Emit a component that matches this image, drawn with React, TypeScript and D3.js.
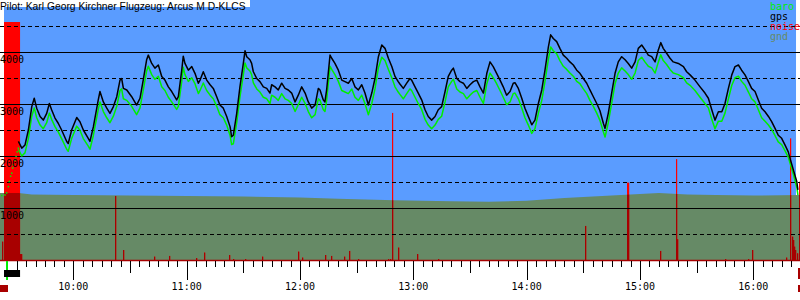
import React from 'react';
import * as d3 from 'd3';

const W = 800;
const H = 300;

const title = 'Pilot: Karl Georg Kirchner Flugzeug: Arcus M D-KLCS';

// minutes after 09:00
const fixMinutes = [
  30.9, 32.7, 34.4, 36.2, 38.0, 39.3, 40.6, 42.4, 44.1, 45.9, 47.3, 48.5, 50.3, 52.0, 53.8, 56.5, 57.3, 59.1, 61.8, 63.5,
  65.3, 67.9, 68.8, 70.6, 73.2, 74.1, 75.9, 77.7, 79.4, 81.2, 83.0, 84.7, 85.6, 86.5, 88.3, 90.9, 93.5, 95.3, 97.0, 98.8,
  99.7, 101.5, 103.2, 105.0, 106.8, 108.5, 110.3, 112.1, 114.7, 115.6, 117.4, 118.2, 119.1, 120.9, 122.7, 124.4, 126.2, 127.1, 128.8, 130.6,
  132.4, 134.1, 135.9, 137.6, 139.4, 141.2, 143.0, 143.8, 144.7, 146.5, 148.2, 150.0, 150.9, 151.8, 153.5, 154.4, 155.3, 157.1, 158.8, 160.6,
  162.4, 164.1, 165.0, 166.8, 168.5, 170.3, 172.1, 173.8, 175.6, 177.4, 179.1, 180.9, 182.7, 184.4, 186.2, 188.0, 189.7, 190.6, 192.3, 193.2,
  194.1, 195.9, 196.8, 198.5, 200.3, 202.1, 203.8, 205.6, 207.4, 209.1, 210.9, 212.7, 214.4, 216.2, 218.0, 219.7, 221.5, 223.3, 225.0, 226.8,
  228.6, 230.3, 232.0, 232.9, 234.7, 236.5, 238.2, 239.1, 240.9, 242.6, 244.4, 246.2, 247.9, 249.7, 251.5, 253.2, 255.0, 256.8, 258.5, 260.3,
  261.2, 263.0, 264.7, 266.5, 268.3, 270.0, 271.8, 273.6, 275.3, 277.1, 278.9, 280.6, 282.3, 284.1, 285.9, 287.6, 289.4, 291.2, 292.9, 293.8,
  295.6, 297.4, 299.1, 300.9, 302.7, 304.4, 306.2, 308.0, 309.7, 311.5, 312.7, 314.1, 315.9, 317.6, 319.4, 321.2, 322.9, 324.7, 326.5, 328.2,
  330.0, 331.8, 333.5, 335.3, 337.1, 338.8, 340.6, 341.5, 343.2, 345.0, 346.8, 348.5, 350.3, 352.1, 353.8, 355.6, 357.4, 359.1, 360.9, 362.7,
  364.4, 366.2, 368.0, 369.7, 371.0, 372.3, 374.1, 375.9, 377.6, 380.3, 383.0, 384.7, 386.5, 389.1, 391.8, 394.4, 396.2, 398.0, 399.7, 401.5,
  403.3, 405.0, 406.8, 408.6, 410.3, 412.1, 413.8, 415.6, 417.4, 419.1, 420.9, 422.6, 424.4, 426.2, 428.0, 429.7, 431.5, 433.2, 435.0, 436.8,
  438.5, 439.4, 441.2, 443.0, 443.6,
];

const gpsAlt = [
  2280, 2150, 2210, 2500, 2950, 3110, 2920, 2760, 2690, 2820, 3010, 2890, 2730, 2630, 2500, 2280, 2240, 2500, 2740, 2660,
  2500, 2340, 2280, 2560, 3080, 3240, 3040, 2920, 2820, 2950, 3140, 3460, 3490, 3300, 3270, 3140, 2980, 3110, 3460, 3850,
  3940, 3780, 3690, 3750, 3530, 3460, 3330, 3240, 3080, 3140, 3650, 3920, 3780, 3650, 3720, 3590, 3400, 3460, 3620, 3460,
  3370, 3300, 3140, 2980, 2920, 2760, 2560, 2370, 2400, 2820, 3330, 3780, 4025, 3910, 3850, 3780, 3620, 3490, 3430, 3330,
  3300, 3210, 3370, 3330, 3270, 3400, 3300, 3270, 3210, 3040, 3170, 3330, 3210, 3040, 2920, 2980, 3300, 3270, 3080, 3040,
  3270, 3940, 3880, 3780, 3650, 3460, 3430, 3400, 3490, 3330, 3270, 3370, 3210, 2980, 3210, 3490, 3910, 4135, 4070, 3880,
  3720, 3530, 3430, 3385, 3300, 3400, 3490, 3460, 3330, 3210, 3080, 2890, 2760, 2690, 2760, 2890, 2950, 3240, 3530, 3650,
  3690, 3490, 3430, 3400, 3300, 3370, 3430, 3460, 3330, 3210, 3590, 3810, 3720, 3590, 3460, 3330, 3170, 3240, 3400, 3410,
  3300, 3110, 2920, 2760, 2600, 2690, 3010, 3270, 3650, 4100, 4330, 4260, 4200, 4070, 3940, 3880, 3810, 3750, 3650, 3590,
  3490, 3400, 3270, 3140, 3010, 2870, 2630, 2530, 2820, 3210, 3590, 3810, 3910, 3850, 3780, 3690, 3810, 4070, 4135, 4040,
  3940, 3910, 3810, 4040, 4180, 4070, 3975, 3880, 3810, 3780, 3720, 3620, 3560, 3460, 3330, 3210, 3110, 2890, 2690, 2850,
  2850, 3010, 3300, 3560, 3720, 3750, 3650, 3560, 3430, 3300, 3240, 3080, 2920, 2850, 2760, 2660, 2530, 2400, 2340, 2210,
  2080, 1960, 1730, 1510, 1350,
];

const baroAlt = [
  2130, 2000, 2060, 2335, 2765, 2925, 2735, 2595, 2525, 2640, 2825, 2705, 2565, 2465, 2335, 2130, 2090, 2335, 2575, 2495,
  2335, 2190, 2130, 2395, 2895, 3040, 2855, 2735, 2640, 2765, 2955, 3260, 3290, 3100, 3070, 2955, 2795, 2925, 3260, 3635,
  3725, 3565, 3475, 3535, 3330, 3260, 3130, 3040, 2895, 2955, 3435, 3705, 3565, 3435, 3505, 3390, 3200, 3260, 3405, 3260,
  3170, 3100, 2955, 2795, 2735, 2595, 2395, 2220, 2235, 2640, 3130, 3565, 3790, 3695, 3635, 3565, 3405, 3290, 3230, 3130,
  3100, 3010, 3170, 3130, 3070, 3200, 3100, 3070, 3010, 2855, 2985, 3130, 3010, 2855, 2735, 2795, 3100, 3070, 2895, 2855,
  3070, 3725, 3665, 3565, 3435, 3260, 3230, 3200, 3290, 3130, 3070, 3170, 3010, 2795, 3010, 3290, 3695, 3900, 3835, 3665,
  3505, 3330, 3230, 3185, 3100, 3200, 3290, 3260, 3130, 3010, 2895, 2705, 2595, 2525, 2595, 2705, 2765, 3040, 3330, 3435,
  3475, 3290, 3230, 3200, 3100, 3170, 3230, 3260, 3130, 3010, 3390, 3595, 3505, 3390, 3260, 3130, 2985, 3040, 3200, 3210,
  3100, 2925, 2735, 2595, 2435, 2525, 2825, 3070, 3435, 3865, 4095, 4025, 3965, 3835, 3725, 3665, 3595, 3535, 3435, 3390,
  3290, 3200, 3070, 2955, 2825, 2685, 2465, 2365, 2640, 3010, 3390, 3595, 3695, 3635, 3565, 3475, 3595, 3835, 3900, 3805,
  3725, 3695, 3595, 3805, 3945, 3835, 3760, 3665, 3595, 3565, 3505, 3405, 3360, 3260, 3130, 3010, 2925, 2705, 2525, 2670,
  2670, 2825, 3100, 3360, 3505, 3535, 3435, 3360, 3230, 3100, 3040, 2895, 2735, 2670, 2595, 2510, 2390, 2270, 2220, 2100,
  1980, 1870, 1650, 1400, 1250,
];

// sparse baro fixes during the engine climb
const climbMinutes = [22.1, 23.8, 24.7, 25.6, 26.1, 26.8, 27.4, 27.9, 28.2, 29.1, 29.7, 30.3, 30.9];
const climbBaro = [1240, 1250, 1290, 1410, 1510, 1610, 1670, 1770, 1830, 1920, 1990, 2080, 2150];

// ground elevation
const gndMinutes = [21.0, 31.0, 38.0, 60.0, 90.0, 120.0, 150.0, 180.0, 200.0, 230.0, 260.0, 280.0, 300.0, 320.0, 340.0, 355.0, 370.0, 385.0, 400.0, 420.0, 445.0];
const gndElev = [1290, 1290, 1260, 1250, 1240, 1230, 1220, 1200, 1180, 1150, 1130, 1120, 1140, 1190, 1230, 1260, 1290, 1260, 1250, 1240, 1250];

// noise (ENL) spikes
const noiseMinutes = [
  22.1, 31.9, 32.4, 81.8, 86.3, 102.7, 110.7, 125.0, 129.3, 142.6, 144.7, 150.9, 160.1, 179.1, 181.2, 193.4, 196.6, 203.5, 206.1, 210.9,
  226.7, 227.6, 228.9, 232.0, 242.1, 253.2, 330.9, 353.0, 353.5, 370.6, 378.9, 379.7, 405.0, 417.3, 419.1, 437.1, 439.4, 440.3, 440.8, 441.5,
  442.1, 443.0, 444.2,
];
const noiseLevel = [
  77, 25, 25, 269, 42, 14, 17, 8, 31, 21, 4, 4, 14, 35, 10, 21, 17, 14, 38, 4,
  4, 4, 618, 52, 25, 4, 143, 325, 325, 38, 424, 87, 4, 4, 42, 10, 511, 98, 84, 56,
  42, 28, 329,
];
// engine run (minutes after 09:00) at full noise
const engineRun = [23.3, 31.8];
const engineLevel = 1000;
const takeoffMinute = 24.9;

const logStart = 23.3;
const logEnd = 442.6;

const altMajor = [1000, 2000, 3000, 4000];
const altMinor = [500, 1500, 2500, 3500, 4500];

const legendLabels = ['baro', 'gps', 'noise', 'gnd'];
const legendColors = ['#00ee00', '#000000', '#ff0000', '#668a66'];

const BLUE = '#5a9cff';
const GROUND = '#668a66';
const RED = '#ff0000';
const DARKRED = '#a80000';
const MONO = '"DejaVu Sans Mono", monospace';

const t0 = new Date(2024, 0, 1, 9, 0, 0).getTime();
const T = (m: number) => new Date(t0 + m * 60000);

export default function App() {
  const x = d3.scaleTime().domain([T(60), T(420)]).range([73.33, 753.33]);
  const y = d3.scaleLinear().domain([0, 5000]).range([260, 0]);
  const yN = d3.scaleLinear().domain([0, 1000]).range([260, 22]);
  const base = y(0);

  const gpsPts = fixMinutes.map((m, i) => [x(T(m)), y(gpsAlt[i])] as [number, number]);
  const baroPts = fixMinutes.map((m, i) => [x(T(m)), y(baroAlt[i])] as [number, number]);
  const line = d3.line();
  const gndArea = d3
    .area<[number, number]>()
    .x((d) => x(T(d[0])))
    .y0(base)
    .y1((d) => y(d[1]));
  const gndPath = gndArea(gndMinutes.map((m, i) => [m, gndElev[i]] as [number, number])) || '';

  const ticks = d3.timeMinute.every(5)!.range(x.invert(-1), x.invert(801));
  const fmt = d3.timeFormat('%H:%M');

  const noiseBars = noiseMinutes.map((m, i) => {
    const px = Math.round(x(T(m)));
    const top = yN(noiseLevel[i]);
    return { px, top };
  });
  const engX0 = x(T(engineRun[0]));
  const engX1 = x(T(engineRun[1]));
  const engTop = yN(engineLevel);

  const renderNoise = (color: string) => (
    <g fill={color}>
      <rect x={engX0} y={engTop} width={engX1 - engX0} height={base - engTop} />
      {noiseBars.map((b, i) => (
        <rect key={i} x={b.px} y={b.top} width={1.2} height={base - b.top} />
      ))}
    </g>
  );

  return (
    <svg
      width={W}
      height={H}
      style={{ position: 'absolute', left: 0, top: 0, display: 'block', background: '#fff' }}
    >
      <defs>
        <clipPath id="gndClip">
          <path d={gndPath} />
        </clipPath>
      </defs>
      <rect x={x(T(logStart))} y={0} width={x(T(logEnd)) - x(T(logStart))} height={base} fill={BLUE} />
      <rect x={0} y={0} width={250} height={7} fill="#fff" />
      <path d={gndPath} fill={GROUND} />
      {renderNoise(RED)}
      <g clipPath="url(#gndClip)">{renderNoise(DARKRED)}</g>

      {altMajor.map((a) => (
        <line key={a} x1={0} x2={W} y1={Math.round(y(a)) + 0.5} y2={Math.round(y(a)) + 0.5} stroke="#000" strokeWidth={1} />
      ))}
      {altMinor.map((a) => (
        <line
          key={a}
          x1={0}
          x2={W}
          y1={Math.round(y(a)) + 0.5}
          y2={Math.round(y(a)) + 0.5}
          stroke="#000"
          strokeWidth={1}
          strokeDasharray="4,3"
        />
      ))}

      <path d={line(baroPts) || ''} fill="none" stroke="#00ee00" strokeWidth={1.5} strokeLinejoin="round" />
      <path d={line(gpsPts) || ''} fill="none" stroke="#000" strokeWidth={1.5} strokeLinejoin="round" />
      {climbMinutes.map((m, i) => (
        <rect key={i} x={x(T(m)) - 0.75} y={y(climbBaro[i]) - 0.75} width={1.5} height={1.5} fill="#00ee00" />
      ))}

      <line x1={0} x2={W} y1={base + 0.5} y2={base + 0.5} stroke={DARKRED} strokeWidth={1.5} />
      {ticks.map((t, i) => {
        const px = Math.round(x(t)) + 0.5;
        const mm = t.getMinutes();
        const len = mm === 0 ? 19 : mm === 30 ? 12 : 6;
        return <line key={i} x1={px} x2={px} y1={base + 1} y2={base + 1 + len} stroke="#000" strokeWidth={1} />;
      })}
      {ticks
        .filter((t) => t.getMinutes() === 0)
        .map((t, i) => (
          <text key={i} x={x(t)} y={290} fontFamily={MONO} fontSize={10} textAnchor="middle" fill="#000">
            {fmt(t)}
          </text>
        ))}

      <line x1={x(T(takeoffMinute))} x2={x(T(takeoffMinute))} y1={base + 1} y2={280} stroke="#00ee00" strokeWidth={2} />
      <rect x={engX0} y={270} width={engX1 - engX0} height={7} fill="#000" />
      <rect x={0} y={285} width={8} height={7} fill={DARKRED} />
      <rect x={798} y={268} width={2} height={11} fill={DARKRED} />
      <rect x={798} y={285} width={2} height={7} fill={DARKRED} />

      {altMajor.map((a) => (
        <text key={a} x={0} y={Math.round(y(a)) + 11} fontFamily={MONO} fontSize={10} fill="#000">
          {a}
        </text>
      ))}

      <text x={0} y={10} fontFamily='"Liberation Sans", Arial, sans-serif' fontSize={10.3} fill="#000">
        {title}
      </text>
      {legendLabels.map((l, i) => (
        <text key={l} x={770} y={10 + i * 10} fontFamily={MONO} fontSize={10} fill={legendColors[i]}>
          {l}
        </text>
      ))}
    </svg>
  );
}
